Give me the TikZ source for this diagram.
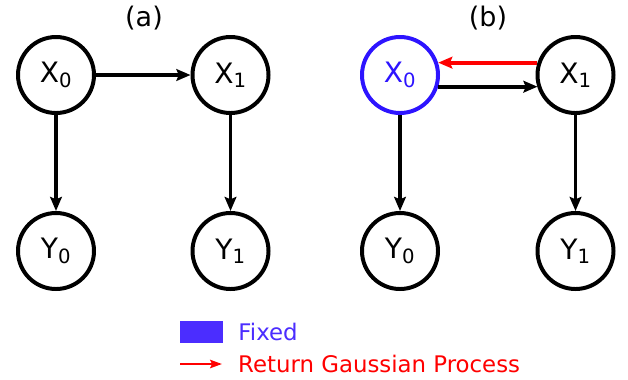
\documentclass[tikz,border=0pt]{standalone}
\usepackage{fontspec}
\setmainfont{DejaVu Sans}
\usepackage{tikz}
\usetikzlibrary{arrows.meta, positioning}
\definecolor{fixblue}{RGB}{45,20,255}
\definecolor{legblue}{RGB}{75,45,255}
\definecolor{retred}{RGB}{255,0,0}

\begin{document}
\begin{tikzpicture}[
    x=0.03cm, y=-0.03cm,
    var/.style={circle, draw, line width=3.4pt, minimum size=2.28cm, inner sep=0pt,
                font=\fontsize{24}{28}\selectfont},
    fixed/.style={var, draw=fixblue, text=fixblue},
    arrow/.style={-{Stealth[length=12pt, width=10pt, inset=2pt]}, line width=3.2pt},
    retarrow/.style={arrow, draw=retred},
    panel/.style={font=\fontsize{23}{27}\selectfont},
    legtext/.style={anchor=west, inner sep=0pt, font=\fontsize{19.5}{23}\selectfont}
]
    \useasboundingbox (0,0) rectangle (628,379);

    % (a)
    \node[panel] (pa) at (144,18) {(a)};
    \node[var] (xa0) at (56,75) {X\textsubscript{0}};
    \node[var] (xa1) at (230.5,75) {X\textsubscript{1}};
    \node[var] (ya0) at (56,251) {Y\textsubscript{0}};
    \node[var] (ya1) at (230.5,251) {Y\textsubscript{1}};

    \draw[arrow] (xa0) -- (xa1);
    \draw[arrow] (xa0) -- (ya0);
    \draw[arrow] (xa1) -- (ya1);

    % (b)
    \node[panel] (pb) at (488,18) {(b)};
    \node[fixed] (xb0) at (400,75) {X\textsubscript{0}};
    \node[var] (xb1) at (575.5,75) {X\textsubscript{1}};
    \node[var] (yb0) at (400,251) {Y\textsubscript{0}};
    \node[var] (yb1) at (575.5,251) {Y\textsubscript{1}};

    \draw[retarrow] (xb1.162.5) -- (xb1.162.5 -| xb0.17.5);
    \draw[arrow] (xb0.-17.5) -- (xb0.-17.5 -| xb1.-162.5);
    \draw[arrow] (xb0) -- (yb0);
    \draw[arrow] (xb1) -- (yb1);

    % legend
    \node[fill=legblue, minimum width=1.29cm, minimum height=0.66cm, inner sep=0pt] (kfix) at (201.5,332) {};
    \node[legtext, text=legblue, right=15*0.03cm of kfix] (lfix) {Fixed};
    \coordinate (kret0) at (180,364);
    \coordinate (kret1) at (222,364);
    \draw[-{Stealth[length=10pt, width=7pt, inset=1.5pt]}, line width=2.4pt, draw=retred] (kret0) -- (kret1);
    \node[legtext, text=retred, right=16*0.03cm of kret1] (lret) {Return Gaussian Process};
\end{tikzpicture}
\end{document}
